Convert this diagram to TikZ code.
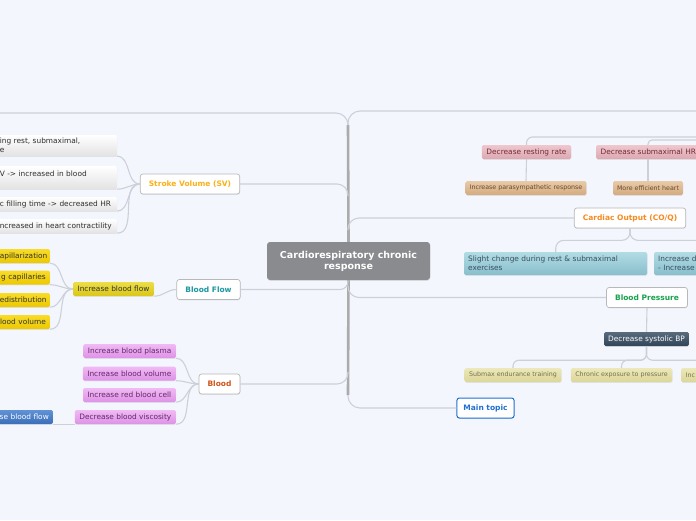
\documentclass[tikz,border=0pt]{standalone}
\usepackage{fontspec}
\setmainfont{DejaVu Sans}
\usepackage{xcolor}
\usepackage{tikz}
\usetikzlibrary{calc,shadows}

\definecolor{bgc}{HTML}{F3F6FD}
\definecolor{trunkc}{HTML}{ABABAB}
\definecolor{linec}{HTML}{CDD0D8}
\definecolor{rootc}{HTML}{8A8B8E}
\definecolor{svc}{HTML}{FBB117}
\definecolor{bfc}{HTML}{1C97A4}
\definecolor{bloodc}{HTML}{D0541B}
\definecolor{coc}{HTML}{F68A1E}
\definecolor{bpc}{HTML}{17A24C}
\definecolor{mainc}{HTML}{1F70D4}

\newcommand{\leaffont}{\fontsize{7.4}{8.6}\selectfont}
\newcommand{\twigfont}{\fontsize{6.3}{7.5}\selectfont}
\newcommand{\topicfont}{\fontsize{7.5}{9}\selectfont\bfseries}
\newcommand{\rootfont}{\fontsize{9.5}{11}\selectfont\bfseries}

\tikzset{
    trunk/.style={draw=trunkc, line width=2.6pt},
    branch/.style={draw=linec, line width=1.1pt},
    elbow/.style={branch, rounded corners=#1},
    soft/.style={drop shadow={shadow xshift=0.3pt, shadow yshift=-0.9pt, opacity=0.15}},
    topic/.style={soft, draw=black!28, line width=0.7pt, fill=white, rounded corners=2.5pt,
        font=\topicfont, inner xsep=8.5pt, minimum height=20pt},
    leaf/.style={soft, rounded corners=1.5pt, font=\leaffont, inner xsep=4.5pt, inner ysep=2pt,
        minimum height=14pt},
    twig/.style={leaf, font=\twigfont, inner xsep=4pt},
    cutl/.style={anchor=east, text width=#1, align=left},
    cutr/.style={anchor=east, text width=#1, align=right},
    greyleaf/.style={leaf, inner xsep=3pt, top color=white, bottom color=black!11, text=black!82},
    yellowleaf/.style={leaf, top color={rgb,255:red,248;green,220;blue,40}, bottom color={rgb,255:red,236;green,200;blue,0}, text=black!80},
    oliveleaf/.style={leaf, top color={rgb,255:red,236;green,222;blue,70}, bottom color={rgb,255:red,218;green,198;blue,24}, text=black!80},
    pinkleaf/.style={leaf, top color={rgb,255:red,240;green,186;blue,244}, bottom color={rgb,255:red,222;green,146;blue,230}, text={rgb,255:red,100;green,40;blue,105}},
    blueleaf/.style={leaf, top color={rgb,255:red,96;green,146;blue,214}, bottom color={rgb,255:red,58;green,110;blue,184}, text=white},
    tealleaf/.style={leaf, inner xsep=4pt, top color={rgb,255:red,178;green,220;blue,228}, bottom color={rgb,255:red,136;green,190;blue,204}, text={rgb,255:red,56;green,80;blue,96}},
    slateleaf/.style={leaf, inner xsep=4pt, top color={rgb,255:red,88;green,106;blue,124}, bottom color={rgb,255:red,50;green,68;blue,88}, text=white},
    roseleaf/.style={leaf, top color={rgb,255:red,238;green,200;blue,206}, bottom color={rgb,255:red,220;green,168;blue,178}, text={rgb,255:red,120;green,40;blue,54}},
    tantwig/.style={twig, top color={rgb,255:red,232;green,202;blue,168}, bottom color={rgb,255:red,212;green,170;blue,128}, text={rgb,255:red,104;green,74;blue,46}},
    khakitwig/.style={twig, inner xsep=4.5pt, top color={rgb,255:red,236;green,232;blue,186}, bottom color={rgb,255:red,220;green,214;blue,152}, text={rgb,255:red,118;green,112;blue,80}},
}

\begin{document}
\begin{tikzpicture}[x=1pt, y=-1pt]
    \fill[bgc] (0,0) rectangle (696,520);
    \useasboundingbox (0,0) rectangle (696,520);
    \clip (0,0) rectangle (696,520);

    \coordinate (ttop) at (348,125);
    \coordinate (tbot) at (348,395);
    \coordinate (ltop) at (-5,113);
    \coordinate (rtop) at (701,111);
    \coordinate (hra) at (760,137);
    \coordinate (hrb) at (760,140);

    \node[soft, fill=rootc, text=white, rounded corners=3pt, font=\rootfont, align=center,
        minimum width=163pt, minimum height=38pt] (root) at (348.5,261) {Cardiorespiratory chronic\\response};

    \node[topic, text=svc] (sv) at (190,184) {Stroke Volume (SV)};
    \node[greyleaf, cutl=114pt, minimum height=21pt] (sv1) at (117,145.5) {ing rest, submaximal,\\e};
    \node[greyleaf, cutl=114pt, minimum height=23pt] (sv2) at (117,177.5) {V -> increased in blood\\\mbox{}};
    \node[greyleaf, cutl=114pt] (sv3) at (117,204) {c filling time -> decreased HR};
    \node[greyleaf, cutl=114pt] (sv4) at (117,226) {ncreased in heart contractility};

    \node[topic, text=bfc] (bf) at (208.5,289.5) {Blood Flow};
    \node[oliveleaf] (ibf) at (113.5,289) {Increase blood flow};
    \node[yellowleaf, cutr=46pt, inner xsep=4pt] (ibf1) at (50,256) {apillarization};
    \node[yellowleaf, cutr=46pt, inner xsep=4pt] (ibf2) at (50,277.5) {g capillaries};
    \node[yellowleaf, cutr=46pt, inner xsep=4pt] (ibf3) at (50,300) {edistribution};
    \node[yellowleaf, cutr=46pt, inner xsep=4pt] (ibf4) at (50,322) {lood volume};

    \node[topic, text=bloodc] (blood) at (219.5,384) {Blood};
    \node[pinkleaf, anchor=east] (bl1) at (176,351) {Increase blood plasma};
    \node[pinkleaf, anchor=east] (bl2) at (176,373.5) {Increase blood volume};
    \node[pinkleaf, anchor=east] (bl3) at (176,395) {Increase red blood cell};
    \node[pinkleaf, anchor=east] (bl4) at (176,417) {Decrease blood viscosity};
    \node[blueleaf, cutr=60pt, inner xsep=4pt] (dbf) at (53,417) {se blood flow};

    \node[roseleaf] (drr) at (526.5,152) {Decrease resting rate};
    \node[roseleaf, anchor=west] (dsm) at (596,152) {Decrease submaximal HR};
    \node[tantwig] (ipr) at (526,188) {Increase parasympathetic response};
    \node[tantwig] (meh) at (648,188) {More efficient heart};

    \node[topic, text=coc] (co) at (630,218) {Cardiac Output (CO/Q)};
    \node[tealleaf, anchor=west, text width=175pt, align=left, minimum height=23pt] (co1) at (464,263.5)
        {Slight change during rest \& submaximal\\exercises};
    \node[tealleaf, anchor=west, text width=175pt, align=left, minimum height=23pt] (co2) at (654,263.5)
        {Increase d\\- Increase};

    \node[topic, text=bpc] (bp) at (647,297.5) {Blood Pressure};
    \node[slateleaf] (dsb) at (646.5,339) {Decrease systolic BP};
    \node[khakitwig] (smx) at (513,375) {Submax endurance training};
    \node[khakitwig] (cep) at (621.5,375) {Chronic exposure to pressure};
    \node[khakitwig, anchor=west, text width=90pt, align=left] (inc) at (681,375) {Inc};

    \node[topic, draw=mainc, line width=1pt, text=mainc, inner xsep=6.5pt] (main) at (485.5,408) {Main topic};

    \draw[trunk] (ttop) -- (root.north);
    \draw[trunk] (root.south) -- (tbot);
    \draw[elbow=12pt] (ttop) |- (ltop);
    \draw[elbow=12pt] (ttop) |- (rtop);
    \draw[elbow=11pt] ($(ttop|-sv.east)+(0,12)$) |- (sv.east);
    \draw[elbow=8pt] ($(ttop|-bf.east)+(0,-9)$) |- (bf.east);
    \draw[elbow=11pt] ($(ttop|-blood.east)+(0,-12)$) |- (blood.east);
    \draw[elbow=11pt] ($(ttop|-co.west)+(0,12)$) |- (co.west);
    \draw[elbow=11pt] ($(ttop|-bp.west)+(0,-12)$) |- (bp.west);
    \draw[elbow=12pt] (tbot) |- (main.west);

    \foreach \c in {sv1,sv2,sv3,sv4}
        \draw[branch] (sv.west) to[out=180,in=0] (\c.south east);
    \draw[branch] (bf.west) to[out=180,in=0] (ibf.south east);
    \foreach \c in {ibf1,ibf2,ibf3,ibf4}
        \draw[branch] (ibf.west) to[out=180,in=0] (\c.south east);
    \foreach \c in {bl1,bl2,bl3,bl4}
        \draw[branch] (blood.west) to[out=180,in=0] (\c.south east);
    \draw[branch] (bl4.south west) -- (dbf.south east);

    \draw[elbow=6pt] (hra) -| (drr.north);
    \draw[elbow=4pt] (hrb) -| (meh.north|-dsm.north);
    \draw[branch] (drr.south) -- (ipr.north);
    \draw[branch] (meh.north|-dsm.south) -- (meh.north);
    \draw[elbow=8pt] (co.south) -- ++(0,12) -| (co1.north);
    \draw[elbow=8pt] (co.south) -- ++(0,12) -| (co2.north);
    \draw[branch] (bp.south) -- (dsb.north);
    \foreach \c in {smx,cep,inc}
        \draw[elbow=6pt] (dsb.south) -- ++(0,14) -| (\c.north);
\end{tikzpicture}
\end{document}
